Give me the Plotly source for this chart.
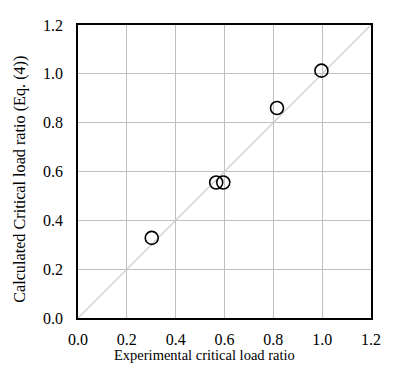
import plotly.graph_objects as go

experimental = [0.302, 0.566, 0.595, 0.815, 0.997]
calculated = [0.328, 0.555, 0.555, 0.860, 1.013]
ref_line = [0.0, 1.2]
ticks = [0.0, 0.2, 0.4, 0.6, 0.8, 1.0, 1.2]
tick_labels = ["0.0", "0.2", "0.4", "0.6", "0.8", "1.0", "1.2"]
x_title = "Experimental critical load ratio"
y_title = "Calculated Critical load ratio (Eq. (4))"

fam = "Liberation Serif"
fig = go.Figure()
fig.add_trace(go.Scatter(x=ref_line, y=ref_line, mode="lines",
                         line=dict(color="#c8c8c8", width=1.2), showlegend=False, hoverinfo="skip"))
fig.add_trace(go.Scatter(x=experimental, y=calculated, mode="markers",
                         marker=dict(symbol="circle-open", size=13, color="black", line=dict(width=1.6)),
                         showlegend=False))

tickfont = dict(family=fam, size=16, color="black")
axis_common = dict(range=[0, 1.2], tickvals=ticks, ticktext=tick_labels,
                   showgrid=True, gridcolor="#c0c0c0", gridwidth=1.4,
                   showline=True, linecolor="black", linewidth=1.6, mirror=True,
                   zeroline=False, ticks="", tickfont=tickfont)
fig.update_layout(
    width=404, height=387,
    margin=dict(l=78, r=33, t=25, b=69),
    paper_bgcolor="white", plot_bgcolor="white",
    font=dict(family=fam, color="black"),
    xaxis=dict(**axis_common, ticklabelstandoff=6),
    yaxis=dict(**axis_common, ticklabelstandoff=10),
    annotations=[
        dict(text=x_title, xref="paper", yref="paper", x=0.433, y=-0.126,
             xanchor="center", yanchor="middle", showarrow=False,
             font=dict(family=fam, size=14.5, color="black")),
        dict(text=y_title, xref="paper", yref="paper", x=-0.198, y=0.475,
             xanchor="center", yanchor="middle", showarrow=False, textangle=-90,
             font=dict(family=fam, size=16.2, color="black")),
    ],
)
fig.write_html("out.html")
